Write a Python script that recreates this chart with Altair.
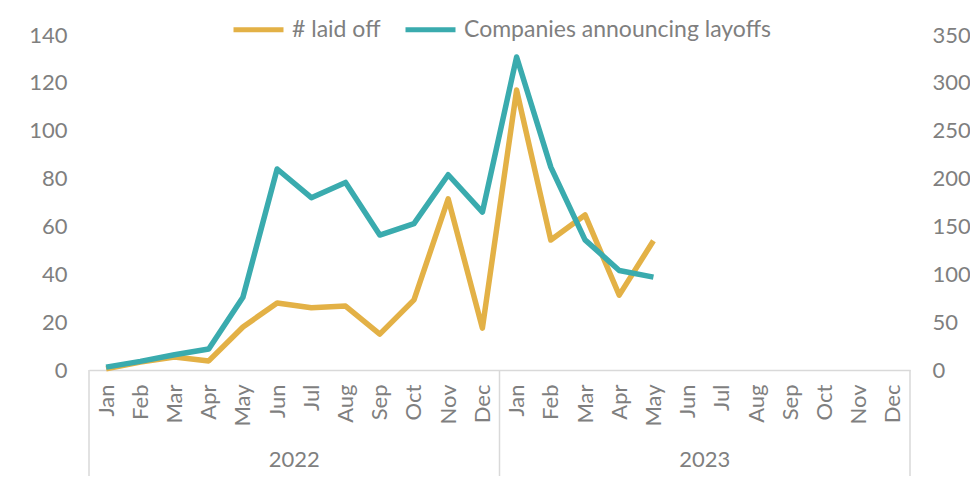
import altair as alt
import pandas as pd

months = ["Jan", "Feb", "Mar", "Apr", "May", "Jun", "Jul", "Aug", "Sep", "Oct", "Nov", "Dec"]
years = ["2022", "2023"]
series_names = ["# laid off", "Companies announcing layoffs"]
series_colors = ["#E3B146", "#3AABAE"]

# Thousands of layoffs (LHS), Jan 2022 - May 2023
laid_off = [0.5, 3.3, 5.4, 3.8, 18.0, 28.0, 26.0, 26.7, 15.0, 29.3, 71.5, 17.5,
            117.0, 54.3, 64.8, 31.3, 54.0]
# Number of companies announcing layoffs (RHS)
companies = [3, 9, 16, 22, 76, 210, 180, 196, 141, 153, 204, 165,
             327, 212, 136, 104, 97]

left_ticks = [0, 20, 40, 60, 80, 100, 120, 140]
right_ticks = [0, 50, 100, 150, 200, 250, 300, 350]

W, H = 821, 335
GREY = "#7f7f7f"
LINE = "#d9d9d9"
FONT = "Lato"

n = len(months) * len(years)
df = pd.DataFrame({
    "idx": list(range(len(laid_off))),
    "laid_off": laid_off,
    "companies": companies,
    "s1": [series_names[0]] * len(laid_off),
    "s2": [series_names[1]] * len(laid_off),
})
bounds = pd.DataFrame({"idx": [i * len(months) - 0.5 for i in range(len(years) + 1)]})
year_df = pd.DataFrame({
    "idx": [i * len(months) + (len(months) - 1) / 2 for i in range(len(years))],
    "year": years,
})

month_arr = "[" + ",".join("'" + m + "'" for m in months) + "]"
x_enc = alt.X(
    "idx:Q",
    scale=alt.Scale(domain=[-0.5, n - 0.5], nice=False, zero=False),
    axis=alt.Axis(
        values=list(range(n)),
        labelExpr=month_arr + "[datum.value % 12]",
        labelAngle=270, labelAlign="right", labelBaseline="middle",
        labelPadding=14, labelFontSize=22, labelColor=GREY, labelFont=FONT,
        ticks=False, grid=False, domainColor=LINE, domainWidth=1.5,
        title=None, labelOverlap=False, labelFlush=False,
    ),
)

color_scale = alt.Scale(domain=series_names, range=series_colors)
legend = alt.Legend(
    orient="none", legendX=142, legendY=-33, direction="horizontal",
    title=None, symbolType="stroke", symbolSize=2500, symbolStrokeWidth=5,
    labelFontSize=23, labelColor=GREY, labelFont=FONT, labelLimit=0,
    labelOffset=6, columnPadding=14, padding=0,
)

base = alt.Chart(df)
yellow = base.mark_line(strokeWidth=5.5, strokeJoin="round").encode(
    x=x_enc,
    y=alt.Y("laid_off:Q", scale=alt.Scale(domain=[0, 140], nice=False),
            axis=alt.Axis(orient="left", values=left_ticks, title=None, grid=False,
                          ticks=False, domain=False, labelPadding=22,
                          labelFontSize=22, labelColor=GREY, labelFont=FONT)),
    color=alt.Color("s1:N", scale=color_scale, legend=legend),
)
teal = base.mark_line(strokeWidth=5.5, strokeJoin="round").encode(
    x=x_enc,
    y=alt.Y("companies:Q", scale=alt.Scale(domain=[0, 350], nice=False),
            axis=alt.Axis(orient="right", values=right_ticks, title=None, grid=False,
                          ticks=False, domain=False, labelPadding=22,
                          labelFontSize=22, labelColor=GREY, labelFont=FONT)),
    color=alt.Color("s2:N", scale=color_scale, legend=legend),
)

rules = alt.Chart(bounds).mark_rule(color=LINE, strokeWidth=1.5).encode(
    x=x_enc, y=alt.value(H), y2=alt.value(H + 115)
)
year_text = alt.Chart(year_df).mark_text(
    fontSize=22, color=GREY, font=FONT, baseline="middle"
).encode(x=x_enc, y=alt.value(H + 90), text="year:N")

chart = alt.layer(yellow, teal, rules, year_text).resolve_scale(
    y="independent"
).properties(
    width=W, height=H,
    autosize=alt.AutoSizeParams(type="none"),
    padding={"left": 81, "top": 27, "right": 60, "bottom": 106},
    background="white",
).configure_view(stroke=None)

chart.save("out.html", embed_options={"renderer": "svg", "actions": False})
